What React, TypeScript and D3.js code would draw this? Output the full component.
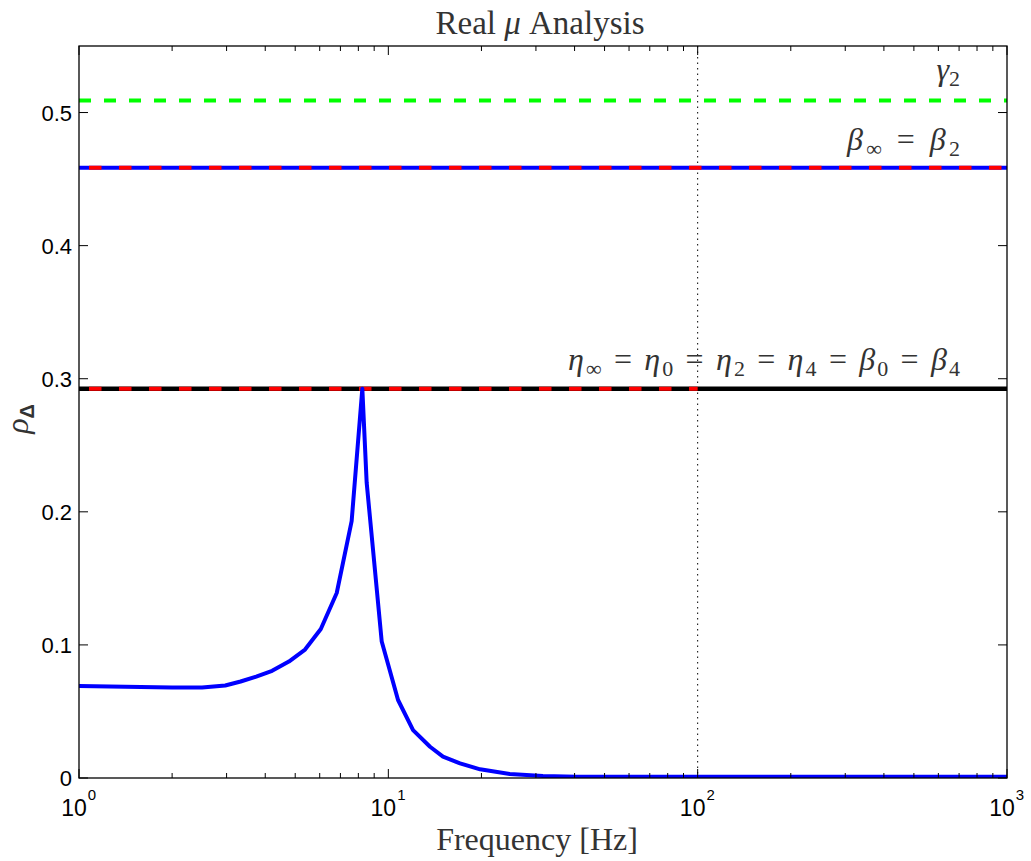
import React from "react";
import * as d3 from "d3";

// ---- data ----
const freq = [1, 1.41, 2.0, 2.5, 2.97, 3.33, 3.74, 4.21, 4.77, 5.38, 6.05, 6.81, 7.61, 8.24, 8.51, 9.52, 10.75, 12.02, 13.64, 15.02, 17.05, 19.8, 24.7, 31.6, 40.7, 100, 1000];
const rho = [0.0692, 0.0686, 0.068, 0.068, 0.0695, 0.0725, 0.0762, 0.0805, 0.0875, 0.0965, 0.112, 0.139, 0.193, 0.2925, 0.222, 0.1025, 0.0586, 0.036, 0.0235, 0.016, 0.011, 0.0065, 0.003, 0.0015, 0.001, 0.001, 0.001];
const gamma2 = 0.509;
const betaInf = 0.4586;
const etaInf = 0.2925;
const redEtaEnd = 100;
const markerFreq = 100;
const yTicks = [0, 0.1, 0.2, 0.3, 0.4, 0.5];
const yTickLabels = ["0", "0.1", "0.2", "0.3", "0.4", "0.5"];
const xDecades = [1, 10, 100, 1000];
const xDecadeExp = ["0", "1", "2", "3"];

const W = 1031, H = 861;
const L = 79, R = 1007, T = 46, B = 778;

export default function App() {
  const x = d3.scaleLog().domain([1, 1000]).range([L, R]);
  const y = d3.scaleLinear().domain([0, 0.55]).range([B, T]);
  const line = d3.line<number>().x((_, i) => x(freq[i])).y((d) => y(d)).curve(d3.curveLinear);
  const minor: number[] = [];
  for (const dec of [1, 10, 100]) for (let k = 2; k <= 9; k++) minor.push(dec * k);

  const serif = "'Liberation Serif', 'DejaVu Serif', serif";
  const sans = "'Liberation Sans', Arial, sans-serif";
  const txt = "#333";

  return (
    <svg width={W} height={H} style={{ position: "absolute", left: 0, top: 0, background: "#fff" }}>
      <defs>
        <clipPath id="plot"><rect x={L} y={T} width={R - L} height={B - T} /></clipPath>
      </defs>
      <rect x={0} y={0} width={W} height={H} fill="#fff" />
      <g clipPath="url(#plot)">
        <line x1={x(markerFreq)} x2={x(markerFreq)} y1={T} y2={B} stroke="#000" strokeWidth={1} strokeDasharray="1.5 4" />
        <line x1={x(1)} x2={x(1000)} y1={y(gamma2)} y2={y(gamma2)} stroke="#00ff00" strokeWidth={4} strokeDasharray="12 13" />
        <line x1={x(1)} x2={x(1000)} y1={y(betaInf)} y2={y(betaInf)} stroke="#0000ff" strokeWidth={4} />
        <line x1={x(1)} x2={x(1000)} y1={y(betaInf)} y2={y(betaInf)} stroke="#ff0000" strokeWidth={4} strokeDasharray="12.5 17.5" strokeDashoffset={-10} />
        <line x1={x(1)} x2={x(1000)} y1={y(etaInf)} y2={y(etaInf)} stroke="#000" strokeWidth={4.5} />
        <line x1={x(1)} x2={x(redEtaEnd)} y1={y(etaInf)} y2={y(etaInf)} stroke="#ff0000" strokeWidth={4} strokeDasharray="12.5 17.5" strokeDashoffset={-10} />
        <path d={line(rho) || ""} fill="none" stroke="#0000ff" strokeWidth={4} strokeLinejoin="round" />
      </g>
      <rect x={L} y={T} width={R - L} height={B - T} fill="none" stroke="#000" strokeWidth={1.3} />
      {yTicks.map((t, i) => (
        <g key={"y" + i}>
          <line x1={L} x2={L + 9} y1={y(t)} y2={y(t)} stroke="#000" strokeWidth={1} />
          <line x1={R} x2={R - 9} y1={y(t)} y2={y(t)} stroke="#000" strokeWidth={1} />
          <text x={L - 7} y={y(t) + 8} textAnchor="end" fontFamily={sans} fontSize={22} fill="#000">{yTickLabels[i]}</text>
        </g>
      ))}
      {xDecades.map((d, i) => (
        <g key={"x" + i}>
          <line x1={x(d)} x2={x(d)} y1={B} y2={B - 9} stroke="#000" strokeWidth={1} />
          <line x1={x(d)} x2={x(d)} y1={T} y2={T + 9} stroke="#000" strokeWidth={1} />
          <text x={x(d) - 5} y={816} textAnchor="middle" fontFamily={sans} fontSize={23} fill="#000">10</text>
          <text x={x(d) + 13} y={800} textAnchor="middle" fontFamily={sans} fontSize={15} fill="#000">{xDecadeExp[i]}</text>
        </g>
      ))}
      {minor.map((m, i) => (
        <g key={"m" + i}>
          <line x1={x(m)} x2={x(m)} y1={B} y2={B - 5} stroke="#000" strokeWidth={1} />
          <line x1={x(m)} x2={x(m)} y1={T} y2={T + 5} stroke="#000" strokeWidth={1} />
        </g>
      ))}
      <text x={540} y={34} textAnchor="middle" fontFamily={serif} fontSize={33} fill={txt}>
        Real <tspan fontStyle="italic">μ</tspan> Analysis
      </text>
      <text x={537} y={850} textAnchor="middle" fontFamily={serif} fontSize={32} fill={txt}>Frequency [Hz]</text>
      <text transform="translate(28,419) rotate(-90)" textAnchor="middle" fontFamily={serif} fontSize={32} fill={txt}>
        <tspan fontStyle="italic">ρ</tspan>
        <tspan fontFamily={sans} fontWeight="bold" fontSize={20} dy={6}>Δ</tspan>
      </text>
      <text x={960} y={80} textAnchor="end" fontFamily={serif} fontSize={32} fill={txt}>
        <tspan fontStyle="italic">γ</tspan><tspan fontSize={22} dy={6}>2</tspan>
      </text>
      <text x={960} y={150} textAnchor="end" fontFamily={serif} fontSize={32} fill={txt} textLength={113} lengthAdjust="spacing">
        <tspan fontStyle="italic">β</tspan><tspan fontSize={22} dy={6}>∞</tspan><tspan dy={-6}> = </tspan><tspan fontStyle="italic">β</tspan><tspan fontSize={22} dy={6}>2</tspan>
      </text>
      <text x={960} y={370} textAnchor="end" fontFamily={serif} fontSize={32} fill={txt} textLength={392} lengthAdjust="spacing">
        <tspan fontStyle="italic">η</tspan><tspan fontSize={22} dy={6}>∞</tspan><tspan dy={-6}> = </tspan>
        <tspan fontStyle="italic">η</tspan><tspan fontSize={22} dy={6}>0</tspan><tspan dy={-6}> = </tspan>
        <tspan fontStyle="italic">η</tspan><tspan fontSize={22} dy={6}>2</tspan><tspan dy={-6}> = </tspan>
        <tspan fontStyle="italic">η</tspan><tspan fontSize={22} dy={6}>4</tspan><tspan dy={-6}> = </tspan>
        <tspan fontStyle="italic">β</tspan><tspan fontSize={22} dy={6}>0</tspan><tspan dy={-6}> = </tspan>
        <tspan fontStyle="italic">β</tspan><tspan fontSize={22} dy={6}>4</tspan>
      </text>
    </svg>
  );
}
